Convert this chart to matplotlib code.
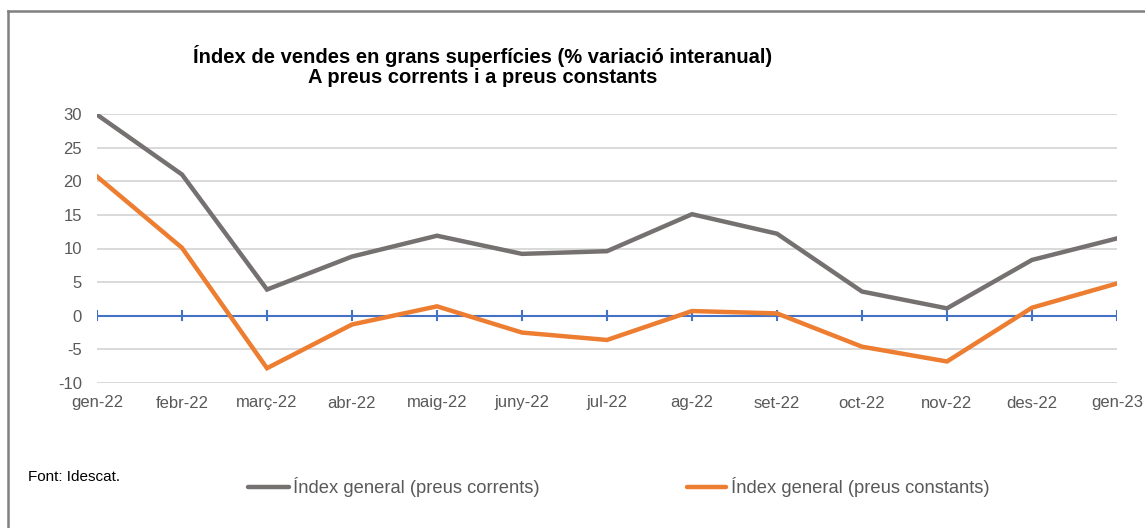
import matplotlib
matplotlib.use("Agg")
import matplotlib.pyplot as plt
from matplotlib.lines import Line2D

categories = ["gen-22", "febr-22", "març-22", "abr-22", "maig-22", "juny-22", "jul-22",
              "ag-22", "set-22", "oct-22", "nov-22", "des-22", "gen-23"]
preus_corrents = [29.9, 21.0, 3.9, 8.8, 11.9, 9.2, 9.6, 15.1, 12.2, 3.6, 1.1, 8.3, 11.5]
preus_constants = [20.7, 10.1, -7.8, -1.3, 1.4, -2.5, -3.6, 0.7, 0.35, -4.6, -6.8, 1.2, 4.8]
yticks = [-10, -5, 0, 5, 10, 15, 20, 25, 30]
title = "Índex de vendes en grans superfícies (% variació interanual)\nA preus corrents i a preus constants"
label_corrents = "Índex general (preus corrents)"
label_constants = "Índex general (preus constants)"
source = "Font: Idescat."

plt.rcParams['font.family'] = ['Liberation Sans', 'DejaVu Sans']

W, H = 1145, 528
fig = plt.figure(figsize=(W / 100, H / 100), dpi=100)
ax = fig.add_axes([97 / W, 1 - 383 / H, (1117 - 97) / W, (383 - 114) / H])

x = list(range(len(categories)))
for yv in yticks:
    if yv != 0:
        ax.axhline(yv, color="#D9D9D9", lw=1.4, zorder=1)
ax.axhline(0, color="#4472C4", lw=1.5, zorder=2)
for xi in x:
    ax.plot([xi, xi], [-0.7, 0.7], color="#4472C4", lw=1.5, zorder=2)

l1, = ax.plot(x, preus_corrents, color="#767171", lw=3.2, zorder=3, solid_joinstyle="miter")
l2, = ax.plot(x, preus_constants, color="#ED7D31", lw=3.2, zorder=4, solid_joinstyle="miter")

ax.set_xlim(0, len(categories) - 1)
ax.set_ylim(-10, 30)
ax.set_yticks(yticks)
ax.set_yticklabels([str(v) for v in yticks])
ax.set_xticks(x)
ax.set_xticklabels(categories)
for s in ax.spines.values():
    s.set_visible(False)
ax.tick_params(axis="both", length=0, colors="#595959", labelsize=12)
ax.tick_params(axis="y", pad=10.8)
ax.tick_params(axis="x", pad=9)

fig.text(483 / W, 1 - 66 / H, title, ha="center", va="center", fontsize=14.5,
         fontweight="bold", color="black", linespacing=1.1)

fig.text(28 / W, 1 - 477 / H, source, ha="left", va="center", fontsize=11, color="black")

# legend entries
for (x0, x1, tx, lab, col) in [(248, 289, 293, label_corrents, "#767171"),
                               (687, 726, 731, label_constants, "#ED7D31")]:
    fig.add_artist(Line2D([x0 / W, x1 / W], [1 - 487 / H, 1 - 487 / H], color=col, lw=3.2,
                          solid_capstyle="round", transform=fig.transFigure))
    fig.text(tx / W, 1 - 487 / H, lab, ha="left", va="center", fontsize=13.2, color="#595959")

# outer border (top and left visible)
fig.add_artist(Line2D([7.5 / W, 7.5 / W], [0, 1 - 10.5 / H], color="#808080", lw=1.8,
                      transform=fig.transFigure))
fig.add_artist(Line2D([7.5 / W, 1.0], [1 - 10.5 / H, 1 - 10.5 / H], color="#808080", lw=1.8,
                      transform=fig.transFigure))

fig.savefig("out.png", dpi=100, facecolor="white")
